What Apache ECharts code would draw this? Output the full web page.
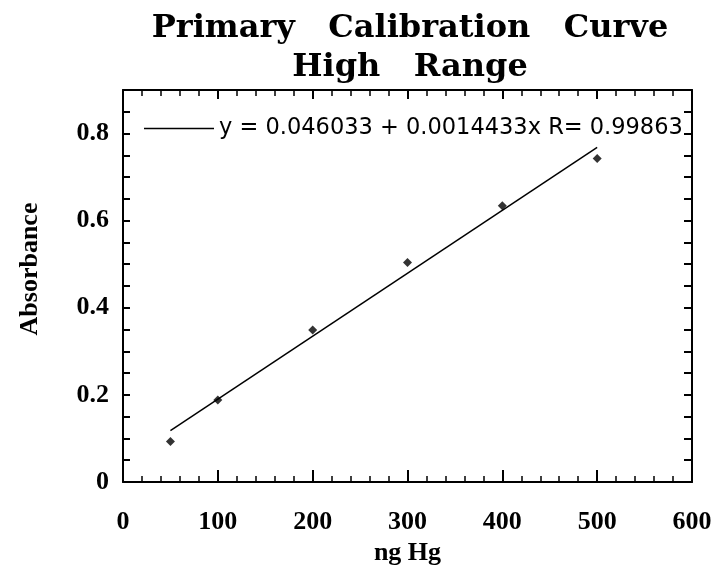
<!DOCTYPE html>
<html><head><meta charset="utf-8">
<script src="https://cdn.jsdelivr.net/npm/echarts@6/dist/echarts.min.js"></script>
<style>html,body{margin:0;padding:0;background:#fff}#c{width:720px;height:565px}</style>
</head><body><div id="c"></div>
<script>
const titleText = 'Primary   Calibration   Curve\nHigh   Range';
const xName = 'ng Hg';
const yName = 'Absorbance';
const massNg = [50, 100, 200, 300, 400, 500];
const absorbance = [0.093, 0.188, 0.349, 0.504, 0.634, 0.743];
const fitX = [50, 500];
const fitY = [0.118, 0.768];
const fitLabel = 'y = 0.046033 + 0.0014433x R= 0.99863';

const serif = 'Liberation Serif';
const black = '#000';
const chart = echarts.init(document.getElementById('c'), null, {renderer: 'canvas'});

const xCommon = {type: 'value', min: 0, max: 600, interval: 100,
  axisLine: {onZero: false, lineStyle: {color: black, width: 2}},
  splitLine: {show: false}};
const yCommon = {type: 'value', min: 0, max: 0.9, interval: 0.05,
  axisLine: {onZero: false, lineStyle: {color: black, width: 2}},
  splitLine: {show: false}};

chart.setOption({
  animation: false,
  backgroundColor: '#fff',
  title: {text: titleText, left: 405, top: 4, textAlign: 'center',
    textStyle: {fontFamily: 'DejaVu Serif', fontWeight: 'bold', fontSize: 32, lineHeight: 39, color: black}},
  grid: {left: 123, right: 28, top: 90, bottom: 83, containLabel: false, outerBoundsMode: 'none'},
  legend: {data: [{name: fitLabel, icon: 'rect'}], left: 139, top: 112, itemWidth: 70, itemHeight: 1.5,
    itemStyle: {color: black},
    textStyle: {fontFamily: 'DejaVu Sans', fontSize: 22.5, color: black}},
  xAxis: [
    Object.assign({}, xCommon, {position: 'bottom',
      axisTick: {inside: true, length: 12, lineStyle: {color: black, width: 2}},
      minorTick: {show: true, splitNumber: 5, length: 6, lineStyle: {color: black, width: 1.5}},
      axisLabel: {margin: 27, color: black, fontFamily: serif, fontWeight: 'bold', fontSize: 26},
      name: xName, nameLocation: 'middle', nameGap: 55,
      nameTextStyle: {color: black, fontFamily: serif, fontWeight: 'bold', fontSize: 26}}),
    Object.assign({}, xCommon, {position: 'top',
      axisTick: {inside: true, length: 9, lineStyle: {color: black, width: 2}},
      minorTick: {show: true, splitNumber: 5, length: 6, lineStyle: {color: black, width: 1.5}},
      axisLabel: {show: false}})
  ],
  yAxis: [
    Object.assign({}, yCommon, {position: 'left',
      axisTick: {inside: true, length: 7, lineStyle: {color: black, width: 2}},
      axisLabel: {margin: 14, color: black, fontFamily: serif, fontWeight: 'bold', fontSize: 26,
        formatter: v => {const k = v * 5; if (Math.abs(k - Math.round(k)) > 1e-6) return ''; return v === 0 ? '0' : v.toFixed(1);}},
      name: yName, nameLocation: 'middle', nameGap: 80, nameRotate: 90,
      nameTextStyle: {color: black, fontFamily: serif, fontWeight: 'bold', fontSize: 26, padding: [0, 0, 0, 34]}}),
    Object.assign({}, yCommon, {position: 'right',
      axisTick: {inside: true, length: 8, lineStyle: {color: black, width: 2}},
      axisLabel: {show: false}})
  ],
  series: [
    {name: 'data', type: 'scatter', xAxisIndex: 0, yAxisIndex: 0, symbol: 'diamond', symbolSize: 9,
      itemStyle: {color: black}, data: massNg.map((x, i) => [x, absorbance[i]])},
    {name: fitLabel, type: 'line', xAxisIndex: 0, yAxisIndex: 0, symbol: 'none',
      lineStyle: {color: black, width: 1.5}, data: fitX.map((x, i) => [x, fitY[i]])}
  ]
});
</script></body></html>
